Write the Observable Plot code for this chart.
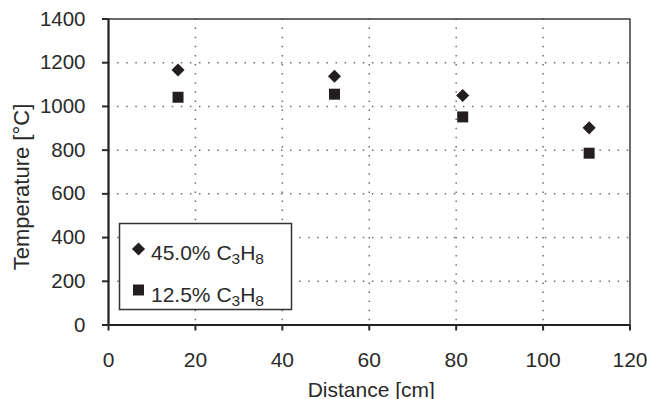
<!DOCTYPE html>
<html>
<head>
<meta charset="utf-8">
<script src="https://cdn.jsdelivr.net/npm/d3@7"></script>
<script src="https://cdn.jsdelivr.net/npm/@observablehq/plot@0.6"></script>
<style>
  html, body { margin: 0; padding: 0; background: #fff; }
  #chart { width: 647px; height: 399px; }
</style>
</head>
<body>
<div id="chart"></div>
<script>
// ---- data ----
const distances = [16.0, 52.0, 81.5, 110.6];
const temps45 = [1167, 1138, 1050, 902];
const temps125 = [1042, 1056, 952, 786];
const xTicks = [0, 20, 40, 60, 80, 100, 120];
const yTicks = [0, 200, 400, 600, 800, 1000, 1200, 1400];
const seriesNames = [
  {pct: "45.0%", formula: ["C", "3", "H", "8"]},
  {pct: "12.5%", formula: ["C", "3", "H", "8"]}
];
const xTitle = "Distance [cm]";
const yTitle = "Temperature [°C]";

const rows45 = distances.map((d, i) => ({x: d, y: temps45[i]}));
const rows125 = distances.map((d, i) => ({x: d, y: temps125[i]}));

const ink = "#231f20";
const gridStyle = {stroke: "#6e6e6e", strokeOpacity: 1, strokeWidth: 1.5, strokeDasharray: "1.5,7.6"};
const r45 = 5.9, r125 = 6.2;

const chart = Plot.plot({
  width: 647,
  height: 399,
  marginLeft: 108,
  marginRight: 17.5,
  marginTop: 18.5,
  marginBottom: 74.5,
  x: {domain: [0, 120]},
  y: {domain: [0, 1400]},
  style: {fontFamily: '"Liberation Sans", Arial, sans-serif', fontSize: "20px", color: "#2a2a2a", background: "#fff"},
  marks: [
    Plot.gridX(xTicks.slice(1, -1), gridStyle),
    Plot.gridY(yTicks.slice(1, -1), gridStyle),
    Plot.frame({stroke: "#3a3a3a", strokeWidth: 1.5}),
    Plot.ruleX([0], {stroke: "#222", strokeWidth: 2}),
    Plot.ruleY([0], {stroke: "#222", strokeWidth: 2}),
    Plot.axisX(xTicks, {tickSize: 6, tickPadding: 21, fontSize: 21, label: null, strokeWidth: 2, tickFormat: d => String(d)}),
    Plot.axisY(yTicks, {tickSize: 6, tickPadding: 17, fontSize: 20.5, label: null, strokeWidth: 2, tickFormat: d => String(d)}),
    Plot.dot(rows45, {x: "x", y: "y", symbol: "diamond2", r: r45, fill: ink, stroke: "none"}),
    Plot.dot(rows125, {x: "x", y: "y", symbol: "square", r: r125, fill: ink, stroke: "none"}),
    Plot.text([xTitle], {text: d => d, frameAnchor: "bottom", textAnchor: "middle", lineAnchor: "bottom", dx: 2, dy: 71.5, fontSize: 21}),
    Plot.text([yTitle], {text: d => d, frameAnchor: "left", textAnchor: "middle", rotate: -90, lineAnchor: "bottom", dx: -79.7, dy: 15, fontSize: 22})
  ]
});

// ---- in-plot legend box ----
const svg = d3.select(chart);
const lg = svg.append("g").attr("class", "legend").attr("text-anchor", "start");
lg.append("rect")
  .attr("x", 119.5).attr("y", 223.5).attr("width", 172).attr("height", 86)
  .attr("fill", "#fff").attr("stroke", "#333").attr("stroke-width", 1.5);

const symbols = [d3.symbolDiamond2, d3.symbolSquare];
const radii = [r45, r125];
const rowY = [249, 290];
const baseY = [260, 301.5];
seriesNames.forEach((s, i) => {
  lg.append("path")
    .attr("transform", `translate(138.5,${rowY[i]})`)
    .attr("d", d3.symbol(symbols[i], Math.PI * radii[i] * radii[i])())
    .attr("fill", ink);
  const t = lg.append("text")
    .attr("x", 151).attr("y", baseY[i])
    .attr("text-anchor", "start")
    .attr("font-size", 21).attr("fill", "#2a2a2a");
  t.append("tspan").text(s.pct + " " + s.formula[0]);
  t.append("tspan").attr("font-size", 15.5).attr("dy", 4).text(s.formula[1]);
  t.append("tspan").attr("dy", -4).text(s.formula[2]);
  t.append("tspan").attr("font-size", 15.5).attr("dy", 4).text(s.formula[3]);
});

document.getElementById("chart").appendChild(chart);
</script>
</body>
</html>
